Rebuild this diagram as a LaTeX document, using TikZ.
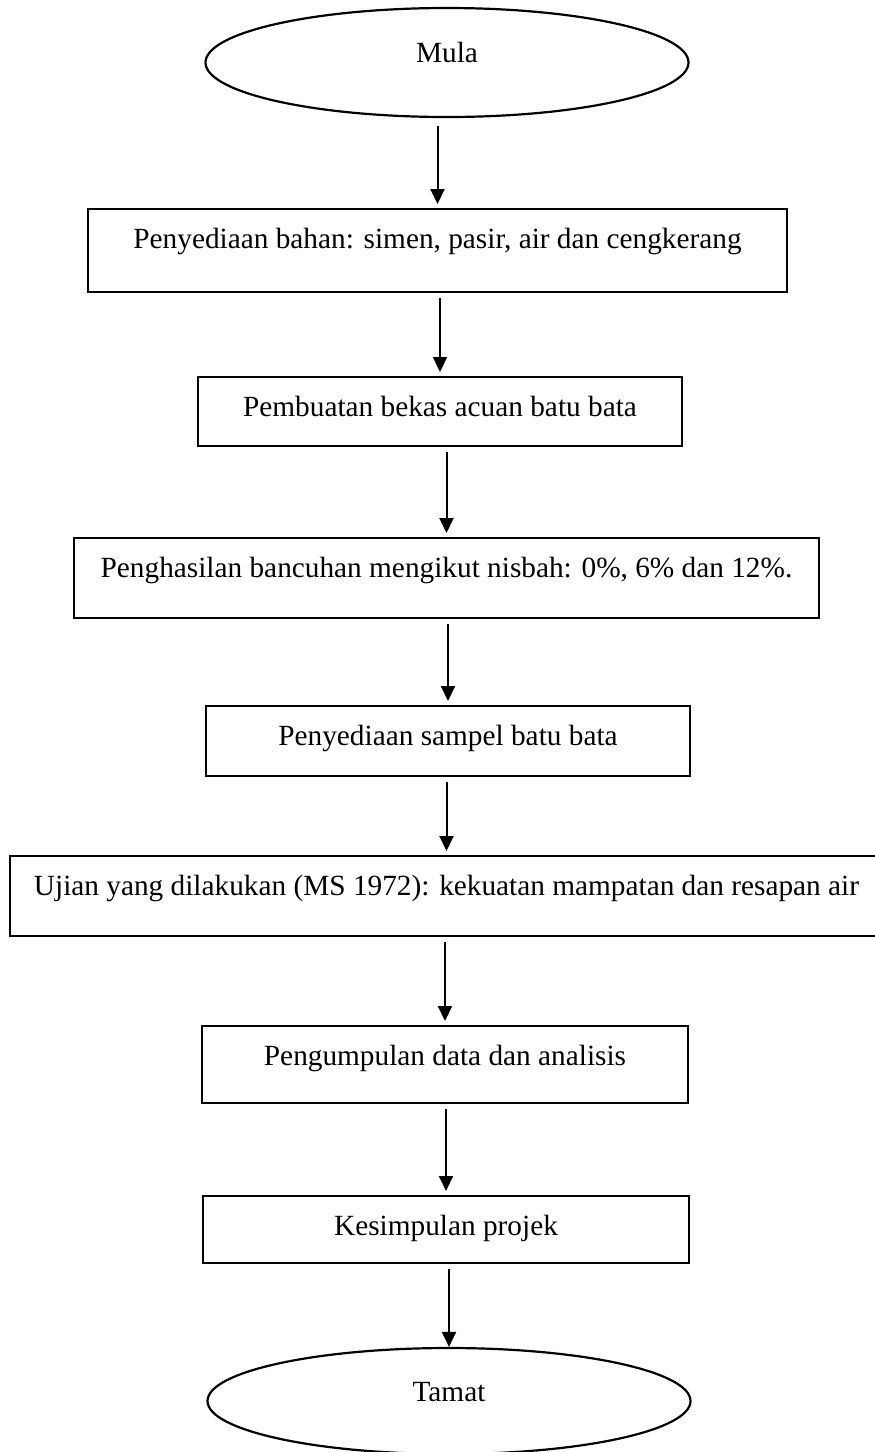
\documentclass[tikz,border=0pt]{standalone}
\usepackage{fontspec}
\setmainfont{Liberation Serif}
\usetikzlibrary{shapes.geometric,arrows.meta}
\begin{document}
\begin{tikzpicture}[x=1pt,y=-1pt]
\tikzstyle{every node}+=[inner sep=0pt, font=\fontsize{29.3}{35}\selectfont]
\tikzstyle{terminal}=[draw=black, line width=2.2pt, ellipse, text height=20pt, text depth=20pt]
\tikzstyle{stepbox}=[draw=black, line width=2.2pt, rectangle, anchor=north, text height=39pt]
\tikzstyle{flow}=[black, line width=2pt, -{Triangle[length=15pt,width=14pt]}, shorten <=5pt, shorten >=4pt]
\useasboundingbox (0,0) rectangle (875,1452);
\node [terminal, minimum width=483pt, minimum height=109pt] (mula) at (447,62.5) {Mula};
\node [stepbox, minimum width=699pt, text depth=44pt] (bahan) at (437.5,208) {Penyediaan bahan: simen, pasir, air dan cengkerang};
\node [stepbox, minimum width=484pt, text depth=30pt] (acuan) at (440,376) {Pembuatan bekas acuan batu bata};
\node [stepbox, minimum width=745pt, text depth=41pt] (bancuhan) at (446.5,537) {Penghasilan bancuhan mengikut nisbah: 0\%, 6\% dan 12\%.};
\node [stepbox, minimum width=484pt, text depth=31pt] (sampel) at (448,705) {Penyediaan sampel batu bata};
\node [stepbox, minimum width=873pt, text depth=41pt] (ujian) at (446.5,855) {Ujian yang dilakukan (MS 1972): kekuatan mampatan dan resapan air};
\node [stepbox, minimum width=486pt, text depth=38pt] (data) at (445,1025) {Pengumpulan data dan analisis};
\node [stepbox, minimum width=486pt, text depth=28pt] (kesimpulan) at (446,1195) {Kesimpulan projek};
\node [terminal, minimum width=483pt, minimum height=106pt] (tamat) at (449,1401) {Tamat};
\draw [flow, shorten <=8pt] (mula.south -| bahan.north) -- (bahan.north);
\draw [flow] (bahan.south -| acuan.north) -- (acuan.north);
\draw [flow] (acuan.south -| bancuhan.north) -- (bancuhan.north);
\draw [flow] (bancuhan.south -| sampel.north) -- (sampel.north);
\draw [flow] (sampel.south -| ujian.north) -- (ujian.north);
\draw [flow] (ujian.south -| data.north) -- (data.north);
\draw [flow] (data.south -| kesimpulan.north) -- (kesimpulan.north);
\draw [flow, shorten >=0pt] (kesimpulan.south -| tamat.north) -- (tamat.north);
\end{tikzpicture}
\end{document}
